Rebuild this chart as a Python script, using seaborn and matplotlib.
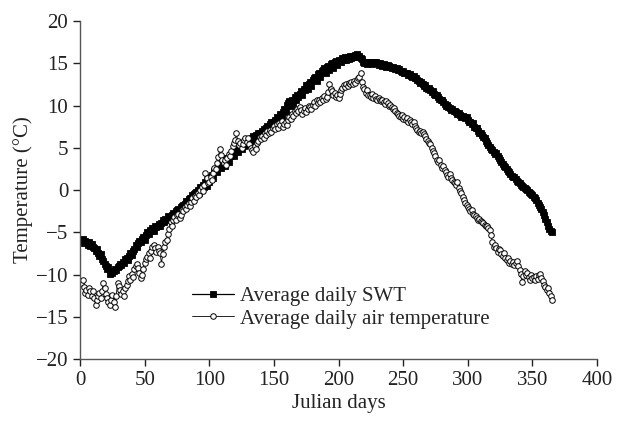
import numpy as np
import pandas as pd
import seaborn as sns
import matplotlib
matplotlib.use("Agg")
import matplotlib.pyplot as plt

# daily values, Julian day 1..365
swt = [
    -6.0, -5.8, -6.3, -6.0, -6.2, -6.5, -6.1, -6.6, -6.4, -6.8,
    -6.9, -7.2, -7.0, -7.5, -7.8, -7.6, -8.2, -8.4, -8.8, -9.0,
    -9.3, -9.1, -9.9, -9.6, -9.8, -9.6, -9.3, -9.5, -9.1, -9.0,
    -8.7, -8.9, -8.5, -8.6, -8.2, -8.0, -8.3, -7.8, -7.5, -7.7,
    -7.2, -7.0, -6.5, -6.8, -6.3, -6.0, -6.2, -5.8, -5.6, -5.9,
    -5.3, -5.0, -5.2, -4.7, -4.9, -4.5, -4.8, -4.3, -4.4, -4.2,
    -4.0, -4.3, -3.9, -3.6, -3.8, -3.4, -3.5, -3.1, -3.3, -3.2,
    -2.9, -2.7, -3.0, -2.5, -2.4, -2.2, -2.4, -2.0, -1.9, -1.8,
    -1.6, -1.3, -1.5, -1.1, -0.9, -1.0, -0.6, -0.5, -0.3, -0.2,
    0.0, -0.4, 0.3, 0.1, 0.6, 0.3, 0.9, 0.5, 1.2, 0.9,
    1.5, 1.8, 1.4, 2.2, 2.5, 2.1, 2.9, 3.1, 2.6, 3.2,
    3.4, 2.9, 3.5, 3.8, 3.3, 4.0, 4.2, 4.5, 4.0, 4.7,
    4.9, 4.5, 5.2, 5.4, 4.9, 5.6, 5.2, 5.8, 5.3, 5.7,
    6.0, 5.4, 6.1, 6.4, 5.8, 6.5, 6.0, 6.7, 6.8, 6.3,
    7.0, 7.2, 6.7, 7.4, 7.6, 7.1, 7.8, 8.0, 7.5, 8.1,
    8.3, 8.6, 8.0, 8.7, 9.0, 8.5, 9.2, 9.6, 9.4, 10.1,
    10.3, 10.5, 10.0, 10.7, 10.3, 11.0, 10.6, 11.2, 11.0, 11.4,
    11.7, 11.2, 12.0, 11.8, 12.4, 11.9, 12.6, 12.8, 12.3, 13.0,
    13.2, 13.4, 12.9, 13.7, 13.9, 13.4, 14.1, 14.2, 14.4, 13.9,
    14.6, 14.7, 14.2, 14.9, 15.0, 14.5, 15.2, 15.3, 14.8, 15.4,
    15.3, 15.1, 15.6, 15.4, 15.7, 15.4, 15.8, 15.5, 15.9, 15.6,
    15.9, 15.7, 16.0, 16.1, 15.8, 15.9, 15.6, 15.5, 15.2, 15.0,
    15.1, 14.9, 15.0, 15.2, 15.1, 14.9, 15.0, 15.2, 15.1, 15.0,
    14.8, 15.0, 14.9, 14.7, 14.9, 14.8, 14.6, 14.8, 14.7, 14.6,
    14.4, 14.6, 14.5, 14.3, 14.4, 14.2, 14.3, 14.1, 14.0, 14.1,
    13.9, 13.8, 13.9, 13.6, 13.7, 13.5, 13.4, 13.5, 13.2, 13.3,
    13.0, 12.9, 12.7, 12.8, 12.5, 12.3, 12.4, 12.1, 12.0, 12.1,
    11.8, 11.6, 11.7, 11.4, 11.2, 11.3, 11.0, 10.8, 10.6, 10.7,
    10.4, 10.2, 10.0, 10.1, 9.8, 9.7, 9.5, 9.6, 9.4, 9.3,
    9.2, 9.0, 9.1, 8.9, 8.7, 8.8, 8.6, 8.5, 8.6, 8.3,
    8.1, 8.0, 7.8, 7.9, 7.5, 7.3, 7.4, 7.0, 6.8, 6.7,
    6.5, 6.3, 6.1, 5.8, 5.6, 5.3, 5.1, 4.9, 4.7, 4.5,
    4.3, 4.4, 4.0, 3.8, 3.6, 3.3, 3.1, 2.9, 2.7, 2.5,
    2.3, 2.1, 1.9, 1.7, 1.5, 1.6, 1.3, 1.1, 0.9, 0.8,
    0.6, 0.5, 0.4, 0.2, 0.1, 0.0, -0.2, -0.3, -0.5, -0.6,
    -0.8, -1.0, -1.2, -1.5, -1.8, -2.0, -2.3, -2.6, -3.0, -3.4,
    -3.8, -4.3, -4.6, -4.8, -5.0,
]

air = [
    -11.0, -10.6, -11.5, -12.2, -11.8, -12.4, -11.6, -12.0, -12.5, -11.9,
    -12.8, -13.6, -13.0, -12.6, -12.2, -12.8, -11.9, -11.0, -11.6, -12.3,
    -12.8, -13.3, -13.6, -13.0, -12.4, -13.2, -13.8, -12.5, -11.0, -11.4,
    -11.8, -12.3, -12.0, -12.6, -11.6, -11.2, -10.8, -10.2, -10.6, -9.9,
    -10.3, -9.4, -9.0, -8.7, -9.2, -9.8, -10.4, -10.1, -9.3, -8.6,
    -8.2, -7.9, -7.5, -8.0, -7.2, -6.8, -6.5, -6.9, -7.3, -6.8,
    -7.2, -7.5, -8.7, -7.6, -6.8, -6.2, -5.9, -5.2, -4.6, -3.8,
    -4.2, -3.6, -3.2, -3.5, -3.0, -2.8, -3.3, -2.9, -2.4, -2.5,
    -2.0, -2.3, -1.8, -1.5, -1.9, -1.4, -1.0, -1.3, -0.7, -0.8,
    -0.4, -0.6, 0.0, 0.3, -0.1, 0.6, 2.0, 1.4, 0.8, 1.0,
    1.5, 1.2, 2.0, 2.6, 2.5, 3.2, 3.9, 4.8, 4.2, 3.6,
    3.2, 3.5, 3.0, 3.8, 4.3, 4.0, 4.6, 5.2, 5.6, 5.9,
    6.7, 5.8, 5.3, 5.6, 5.0, 5.4, 5.9, 6.2, 5.7, 6.1,
    5.5, 5.0, 4.7, 4.5, 5.2, 4.9, 5.6, 5.8, 6.3, 6.0,
    6.4, 6.2, 6.8, 6.5, 7.0, 6.7, 7.1, 6.9, 7.3, 7.6,
    7.2, 7.8, 7.4, 7.9, 7.7, 8.2, 7.5, 7.8, 8.0, 7.7,
    8.3, 8.6, 8.4, 9.0, 8.8, 9.3, 9.1, 9.6, 9.4, 9.8,
    9.5, 9.0, 9.4, 9.7, 9.2, 9.6, 9.9, 9.8, 9.6, 10.1,
    10.4, 10.0, 10.6, 10.3, 10.7, 10.4, 10.9, 10.6, 11.1, 10.8,
    11.0, 11.6, 12.5, 12.0, 11.7, 11.3, 11.5, 11.0, 11.2, 10.9,
    11.4, 11.8, 12.1, 12.4, 12.2, 12.6, 12.3, 12.7, 12.5, 12.8,
    12.6, 12.9, 12.7, 13.0, 13.2, 13.4, 13.8, 12.8, 12.2, 12.0,
    11.5, 11.8, 11.3, 11.2, 11.0, 11.4, 10.9, 11.1, 10.8, 10.7,
    10.9, 10.6, 10.5, 10.7, 10.4, 10.2, 10.5, 10.3, 10.0, 10.1,
    9.8, 9.6, 9.7, 9.3, 9.1, 9.0, 8.8, 8.6, 8.9, 8.4,
    8.6, 8.3, 8.5, 8.1, 8.3, 8.0, 7.8, 8.0, 7.6, 7.3,
    7.1, 6.9, 7.0, 6.8, 6.9, 6.6, 6.4, 6.0, 5.8, 5.6,
    5.4, 5.0, 4.6, 4.4, 4.0, 3.6, 3.3, 3.6, 3.0, 2.6,
    2.8, 2.4, 2.1, 1.8, 1.6, 1.9, 1.4, 1.2, 1.0, 0.8,
    0.6, 0.9, 0.2, -0.1, -0.4, -0.8, -1.2, -1.5, -1.8, -2.0,
    -2.2, -2.5, -2.4, -2.8, -3.0, -3.1, -3.3, -3.5, -3.4, -3.7,
    -3.8, -3.9, -4.1, -4.3, -4.2, -4.5, -4.7, -5.3, -6.2, -6.7,
    -6.5, -6.9, -7.3, -7.0, -7.1, -7.6, -7.8, -7.5, -8.0, -8.3,
    -8.1, -8.6, -8.4, -8.7, -8.5, -8.9, -8.6, -8.4, -9.0, -9.5,
    -9.9, -10.9, -10.2, -9.6, -10.0, -9.8, -10.3, -10.6, -10.1, -10.4,
    -10.3, -10.7, -10.2, -10.5, -10.0, -9.9, -10.4, -10.8, -11.2, -11.5,
    -11.8, -11.6, -12.2, -12.6, -13.0,
]

xticks = [0, 50, 100, 150, 200, 250, 300, 350, 400]
yticks = [-20, -15, -10, -5, 0, 5, 10, 15, 20]

df = pd.DataFrame({"day": np.arange(1, len(swt) + 1), "swt": swt, "air": air})

sns.set_style("ticks")
plt.rcParams['font.family'] = ['Liberation Serif', 'DejaVu Serif']

fig = plt.figure(figsize=(6.17, 4.21), dpi=100)
ax = fig.add_axes([0.1297, 0.1473, 0.838, 0.8027])

sns.lineplot(data=df, x="day", y="swt", ax=ax, color="black", lw=0.9,
             marker="s", markersize=3.8, markerfacecolor="black",
             markeredgecolor="black", markeredgewidth=0.6,
             label="Average daily SWT")
sns.lineplot(data=df, x="day", y="air", ax=ax, color="black", lw=0.6,
             marker="o", markersize=4.0, markerfacecolor="white",
             markeredgecolor="black", markeredgewidth=0.7,
             label="Average daily air temperature")

ax.set_xlim(0, 400)
ax.set_ylim(-20, 20)
ax.set_xticks(xticks)
ax.set_yticks(yticks)
ax.set_xticklabels([str(v) for v in xticks])
ax.set_yticklabels([str(v).replace("-", "\u2212") for v in yticks])
ax.tick_params(direction="out", length=5, width=1, labelsize=15, colors="#222222")
ax.set_xlabel("Julian days", fontsize=15, color="#222222", labelpad=3)
ax.set_ylabel("Temperature (\u00b0C)", fontsize=15, color="#222222", labelpad=2)
for s in ["left", "bottom"]:
    ax.spines[s].set_color("#555555")
    ax.spines[s].set_linewidth(1)
sns.despine(ax=ax)

ax.legend(loc="upper left", bbox_to_anchor=(0.18, 0.27), frameon=False,
          fontsize=15, handlelength=2.0, handletextpad=0.3, labelspacing=0.15)

fig.savefig("out.png", dpi=100)
